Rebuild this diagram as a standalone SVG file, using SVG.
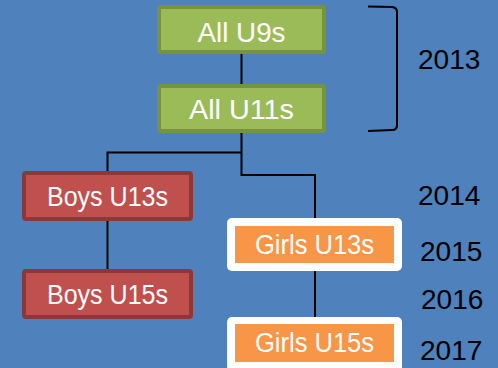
<svg xmlns="http://www.w3.org/2000/svg" width="498" height="368" viewBox="0 0 498 368">
<style>
.lbl{font-family:"Liberation Sans",Arial,sans-serif;font-size:27px;fill:#ffffff;text-anchor:middle}
.yr{font-family:"Liberation Sans",Arial,sans-serif;font-size:28px;fill:#000000}
.green{fill:#9BBB59;stroke:#77933C;stroke-width:4}
.red{fill:#C0504D;stroke:#8C3836;stroke-width:4}
.wht{fill:#ffffff}
.org{fill:#F79646}
.con{fill:none;stroke:#000000;stroke-width:2}
</style>
<rect x="0" y="0" width="498" height="368" fill="#4F81BD"/>
<g id="connectors">
<path class="con" d="M241.5 54 V84"/>
<path class="con" d="M241.5 133 V175 H315 V218"/>
<path class="con" d="M241.5 152.5 H107.5 V171"/>
<path class="con" d="M107.5 221 V269"/>
<path class="con" d="M315 271 V317"/>
</g>
<g id="bracket">
<path class="con" d="M368 6.5 L392 7 Q397 7.5 397 12 L397 125 Q397 130 392 130 L368 131"/>
</g>
<g id="all-u9s">
<rect class="green" x="159" y="7" width="165" height="45" rx="2"/>
<text class="lbl" x="241.5" y="42" textLength="88" lengthAdjust="spacingAndGlyphs">All U9s</text>
</g>
<g id="all-u11s">
<rect class="green" x="159" y="86" width="165" height="45" rx="2"/>
<text class="lbl" x="241.5" y="119" textLength="105" lengthAdjust="spacingAndGlyphs">All U11s</text>
</g>
<g id="boys-u13s">
<rect class="red" x="24" y="173" width="167" height="46" rx="2"/>
<text class="lbl" x="107.5" y="206" textLength="121" lengthAdjust="spacingAndGlyphs">Boys U13s</text>
</g>
<g id="boys-u15s">
<rect class="red" x="24" y="271" width="167" height="46" rx="2"/>
<text class="lbl" x="107.5" y="304" textLength="121" lengthAdjust="spacingAndGlyphs">Boys U15s</text>
</g>
<g id="girls-u13s">
<rect class="wht" x="227" y="218" width="175" height="53" rx="5"/>
<rect class="org" x="235" y="226" width="159" height="37"/>
<text class="lbl" x="314.5" y="254" textLength="119" lengthAdjust="spacingAndGlyphs">Girls U13s</text>
</g>
<g id="girls-u15s">
<rect class="wht" x="227" y="317" width="175" height="56" rx="5"/>
<rect class="org" x="235" y="324" width="159" height="38"/>
<text class="lbl" x="314.5" y="352" textLength="119" lengthAdjust="spacingAndGlyphs">Girls U15s</text>
</g>
<g id="years">
<text class="yr" x="418" y="69">2013</text>
<text class="yr" x="418" y="205">2014</text>
<text class="yr" x="420" y="261">2015</text>
<text class="yr" x="421" y="309">2016</text>
<text class="yr" x="420" y="360">2017</text>
</g>
</svg>
